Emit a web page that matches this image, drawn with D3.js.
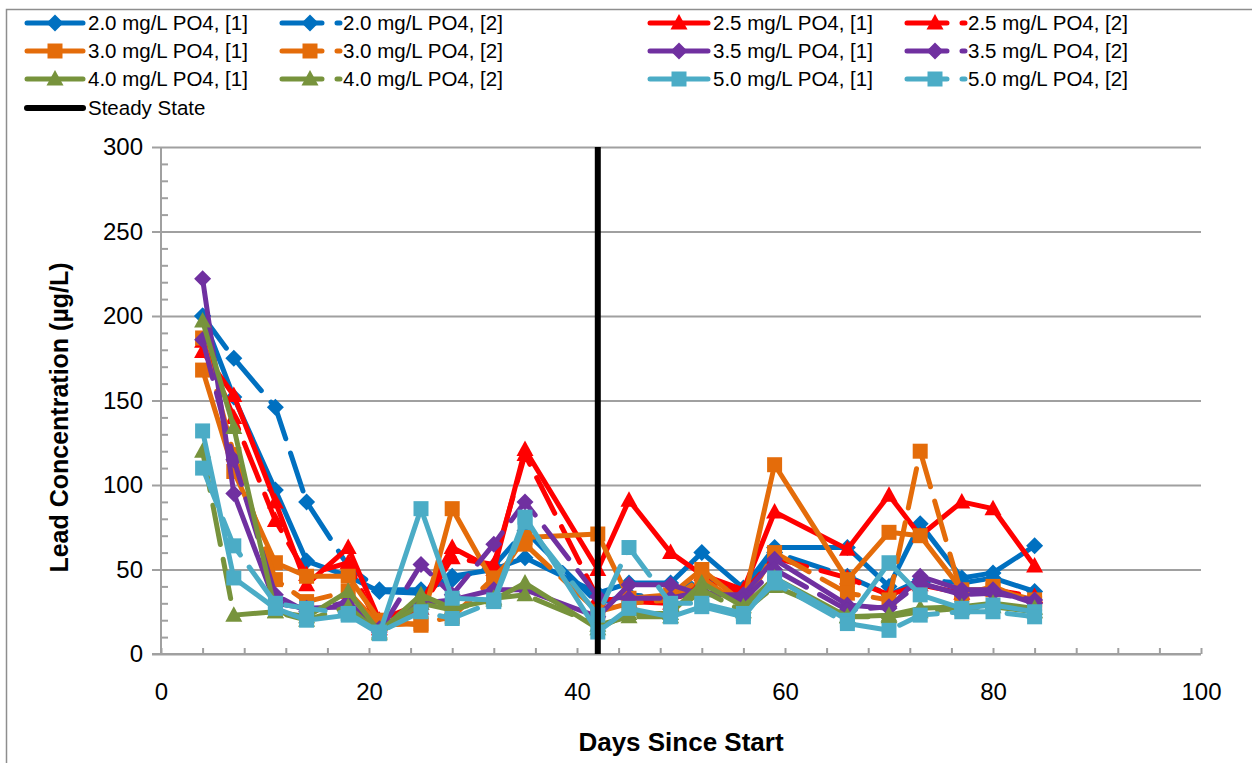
<!DOCTYPE html>
<html>
<head>
<meta charset="utf-8">
<script src="https://cdn.jsdelivr.net/npm/d3@7"></script>
<style>
  body { margin: 0; background: #fff; }
  svg { display: block; }
  text { font-family: "Liberation Sans", Arial, sans-serif; fill: #000; }
</style>
</head>
<body>
<svg id="chart" width="1252" height="763"></svg>
<script>
// Sampling days (days since start)
const days = [4, 7, 11, 14, 18, 21, 25, 28, 32, 35, 42, 45, 49, 52, 56, 59, 66, 70, 73, 77, 80, 84];

// Lead concentration (µg/L) per orthophosphate dose, two replicate pipes each
const po4_20_1 = [200, 152, 97, 55, 46, 37, 36, 46, 50, 57, 36, 42, 42, 60, 39, 63, 63, 40, 77, 45, 48, 64];
const po4_20_2 = [200, 175, 146, 90, 52, 38, 38, 44, 52, 73, 30, 35, 33, 46, 36, 60, 46, 35, 44, 42, 45, 37];
const po4_25_1 = [179, 153, 90, 41, 63, 20, 30, 63, 50, 121, 50, 91, 60, 47, 38, 84, 62, 94, 70, 90, 86, 52];
const po4_25_2 = [185, 140, 79, 47, 54, 15, 27, 57, 53, 118, 33, 31, 30, 43, 36, 57, 45, 35, 41, 36, 38, 34];
const po4_30_1 = [168, 108, 54, 46, 46, 20, 17, 86, 42, 69, 71, 33, 35, 50, 30, 112, 44, 72, 70, 38, 38, 32];
const po4_30_2 = [187, 118, 44, 31, 37, 17, 18, 22, 45, 65, 25, 30, 32, 45, 28, 60, 36, 32, 120, 35, 40, 30];
const po4_35_1 = [222, 95, 30, 27, 28, 15, 30, 32, 38, 38, 22, 41, 41, 35, 35, 56, 29, 27, 46, 38, 38, 30];
const po4_35_2 = [186, 115, 35, 25, 31, 13, 53, 35, 65, 90, 34, 33, 33, 37, 32, 50, 26, 28, 42, 35, 36, 32];
const po4_40_1 = [197, 134, 25, 22, 37, 13, 35, 27, 32, 42, 15, 24, 24, 42, 28, 45, 22, 23, 27, 28, 30, 27];
const po4_40_2 = [120, 23, 25, 20, 28, 12, 30, 26, 33, 35, 17, 22, 22, 38, 25, 40, 22, 22, 25, 27, 28, 25];
const po4_50_1 = [132, 45, 27, 20, 23, 12, 86, 33, 32, 81, 13, 27, 22, 28, 22, 45, 20, 54, 35, 27, 29, 25];
const po4_50_2 = [110, 64, 30, 27, 24, 13, 25, 21, 31, 78, 23, 63, 30, 30, 24, 42, 18, 14, 23, 25, 25, 22];

const seriesNames = [
  "2.0 mg/L PO4, [1]", "2.0 mg/L PO4, [2]", "2.5 mg/L PO4, [1]", "2.5 mg/L PO4, [2]",
  "3.0 mg/L PO4, [1]", "3.0 mg/L PO4, [2]", "3.5 mg/L PO4, [1]", "3.5 mg/L PO4, [2]",
  "4.0 mg/L PO4, [1]", "4.0 mg/L PO4, [2]", "5.0 mg/L PO4, [1]", "5.0 mg/L PO4, [2]"
];
const seriesValues = [po4_20_1, po4_20_2, po4_25_1, po4_25_2, po4_30_1, po4_30_2,
                      po4_35_1, po4_35_2, po4_40_1, po4_40_2, po4_50_1, po4_50_2];

// Steady-state marker: a vertical line at day 42 spanning the value axis
const steadyName = "Steady State";
const steadyDay = [42, 42];
const steadyRange = [0, 300];

const yTicks = [0, 50, 100, 150, 200, 250, 300];
const xTicks = [0, 20, 40, 60, 80, 100];

// Appearance per series index
const colors = ["#0070C0", "#0070C0", "#FF0000", "#FF0000", "#E46C0A", "#E46C0A",
                "#7030A0", "#7030A0", "#77933C", "#77933C", "#4BACC6", "#4BACC6"];
const markers = ["diamond", "diamond", "triangle", "triangle", "square", "square",
                 "diamond", "diamond", "triangle", "triangle", "square", "square"];
const dashed = [false, true, false, true, false, true, false, true, false, true, false, true];

const svg = d3.select("#chart");
const W = 1252, H = 763;
const plot = { left: 161, right: 1201, top: 147, bottom: 654 };

const x = d3.scaleLinear().domain([0, 100]).range([plot.left, plot.right]);
const y = d3.scaleLinear().domain([0, 300]).range([plot.bottom, plot.top]);

const gridColor = "#a0a0a0";
const DASH = "40,15";
const FONT = "'Liberation Sans', Arial, sans-serif";

// Chart area frame
svg.append("rect")
  .attr("x", 6.5).attr("y", 9.5).attr("width", W + 20).attr("height", H + 20)
  .attr("fill", "none").attr("stroke", "#8e8e8e").attr("stroke-width", 1.5);

// Horizontal gridlines with short outside ticks (major)
const yAxisMajor = d3.axisLeft(y).tickValues(yTicks).tickSize(-(plot.right - plot.left)).tickFormat("");
const gMajor = svg.append("g").attr("transform", `translate(${plot.left},0)`).call(yAxisMajor);
gMajor.select(".domain").remove();
gMajor.selectAll(".tick line").attr("stroke", gridColor).attr("stroke-width", 2)
  .attr("x1", -9);

// Minor y ticks (inside)
const yMinor = d3.range(0, 301, 10).filter(v => v % 50 !== 0);
const gMinor = svg.append("g").attr("transform", `translate(${plot.left},0)`)
  .call(d3.axisRight(y).tickValues(yMinor).tickSize(7).tickFormat(""));
gMinor.select(".domain").remove();
gMinor.selectAll(".tick line").attr("stroke", gridColor).attr("stroke-width", 2);

// Y tick labels
const gYLab = svg.append("g").attr("transform", `translate(${plot.left},0)`)
  .call(d3.axisLeft(y).tickValues(yTicks).tickSize(0).tickPadding(18));
gYLab.select(".domain").remove();
gYLab.selectAll("text").style("font-size", "24px").style("font-family", FONT).attr("fill", "#000");

// X axis: ticks every 4 days, pointing up into the plot
const xMinor = d3.range(0, 101, 4);
const gX = svg.append("g").attr("transform", `translate(0,${plot.bottom})`)
  .call(d3.axisTop(x).tickValues(xMinor).tickSize(6).tickFormat(""));
gX.select(".domain").remove();
gX.selectAll(".tick line").attr("stroke", gridColor).attr("stroke-width", 2);

const gXLab = svg.append("g").attr("transform", `translate(0,${plot.bottom})`)
  .call(d3.axisBottom(x).tickValues(xTicks).tickSize(0).tickPadding(29));
gXLab.select(".domain").remove();
gXLab.selectAll("text").style("font-size", "24px").style("font-family", FONT).attr("fill", "#000");

// Axis lines
svg.append("line").attr("x1", plot.left).attr("x2", plot.left).attr("y1", plot.top).attr("y2", plot.bottom)
  .attr("stroke", gridColor).attr("stroke-width", 2);
svg.append("line").attr("x1", plot.left - 9).attr("x2", plot.right).attr("y1", plot.bottom).attr("y2", plot.bottom)
  .attr("stroke", gridColor).attr("stroke-width", 2);

// Axis titles
svg.append("text")
  .attr("transform", `translate(68,${(plot.top + plot.bottom) / 2 + 17}) rotate(-90)`)
  .attr("text-anchor", "middle")
  .style("font-size", "25px").style("font-weight", "bold")
  .text("Lead Concentration (µg/L)");
svg.append("text")
  .attr("x", (plot.left + plot.right) / 2).attr("y", 751)
  .attr("text-anchor", "middle")
  .style("font-size", "26px").style("font-weight", "bold")
  .text("Days Since Start");

// Marker shapes
function markerPath(kind) {
  if (kind === "diamond") return "M0,-8.5L8.5,0L0,8.5L-8.5,0Z";
  if (kind === "square") return "M-7.5,-7.5H7.5V7.5H-7.5Z";
  return "M0,-9L8.5,6.5L-8.5,6.5Z";
}

const line = d3.line().x(d => x(d.day)).y(d => y(d.value));

const gSeries = svg.append("g");
seriesValues.forEach((vals, i) => {
  const pts = days.map((d, k) => ({ day: d, value: vals[k] })).filter(p => p.value != null);
  const g = gSeries.append("g");
  g.append("path").datum(pts)
    .attr("d", line)
    .attr("fill", "none")
    .attr("stroke", colors[i])
    .attr("stroke-width", 5)
    .attr("stroke-linejoin", "round")
    .attr("stroke-linecap", "round")
    .attr("stroke-dasharray", dashed[i] ? DASH : null);
  g.selectAll("path.mk").data(pts).join("path")
    .attr("class", "mk")
    .attr("transform", p => `translate(${x(p.day)},${y(p.value)})`)
    .attr("d", markerPath(markers[i]))
    .attr("fill", colors[i]);
});

// Steady state line
svg.append("line")
  .attr("x1", x(steadyDay[0])).attr("x2", x(steadyDay[1]))
  .attr("y1", y(steadyRange[0])).attr("y2", y(steadyRange[1]))
  .attr("stroke", "#000").attr("stroke-width", 6);

// Legend (four columns, row-major order)
const legendRows = [23, 51, 79, 108];
const legendCols = [
  { x0: 27, x1: 83, tx: 88 },
  { x0: 282, x1: 340, tx: 343 },
  { x0: 650, x1: 708, tx: 713 },
  { x0: 907, x1: 965, tx: 968 }
];
const legendItems = seriesNames.map((name, i) => ({ name, i }));
legendItems.push({ name: steadyName, i: -1 });

const gLeg = svg.append("g");
legendItems.forEach((item, k) => {
  const col = legendCols[k % 4];
  const ry = legendRows[Math.floor(k / 4)];
  const g = gLeg.append("g");
  const color = item.i >= 0 ? colors[item.i] : "#000";
  g.append("line")
    .attr("x1", col.x0).attr("x2", col.x1).attr("y1", ry).attr("y2", ry)
    .attr("stroke", color).attr("stroke-width", item.i >= 0 ? 5 : 6)
    .attr("stroke-linecap", "round")
    .attr("stroke-dasharray", item.i >= 0 && dashed[item.i] ? DASH : null);
  if (item.i >= 0) {
    const mx = dashed[item.i] ? col.x0 + 28 : (col.x0 + col.x1) / 2;
    g.append("path")
      .attr("transform", `translate(${mx},${ry})`)
      .attr("d", markerPath(markers[item.i]))
      .attr("fill", color);
  }
  g.append("text")
    .attr("x", col.tx).attr("y", ry).attr("dy", "0.36em")
    .style("font-size", "20.5px")
    .text(item.name);
});
</script>
</body>
</html>
